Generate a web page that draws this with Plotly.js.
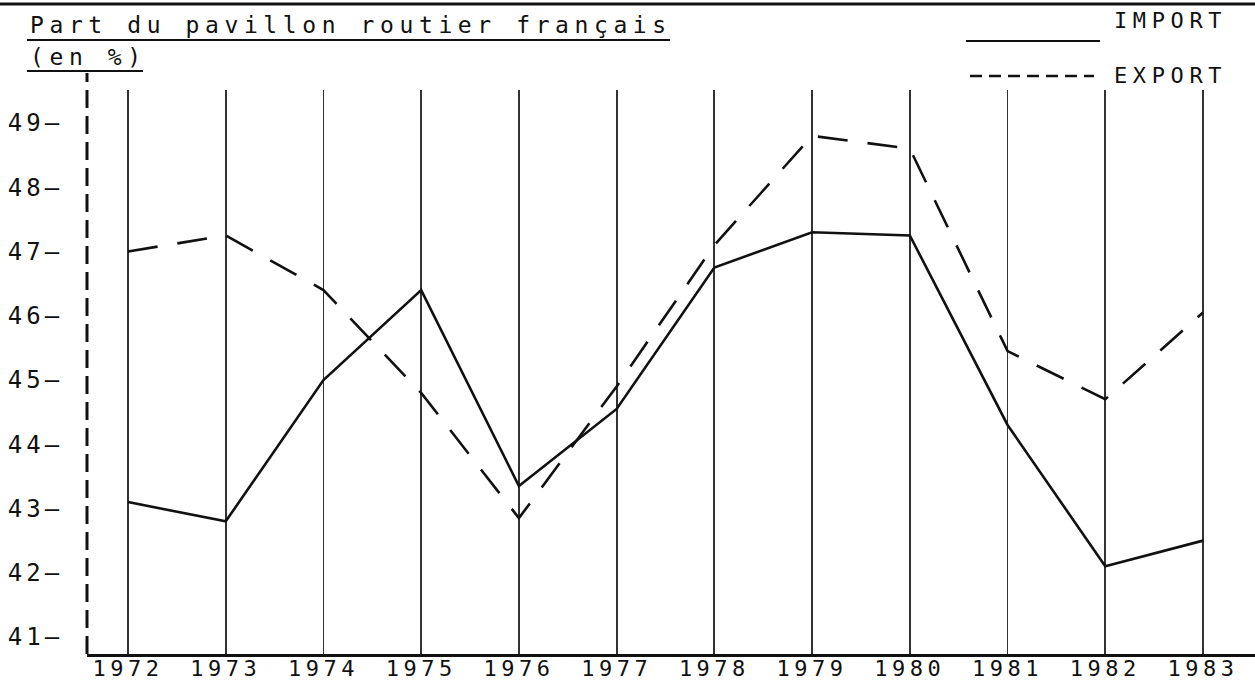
<!DOCTYPE html>
<html>
<head>
<meta charset="utf-8">
<script src="https://cdn.plot.ly/plotly-3.0.1.min.js"></script>
<style>
  html, body { margin: 0; padding: 0; background: #fff; }
  #chart { width: 1255px; height: 682px; }
  .annotation-text { letter-spacing: 5.6px; }
  .xtick text { letter-spacing: 4.5px; }
  .ytick text { letter-spacing: 4px; }
</style>
</head>
<body>
<div id="chart"></div>
<script>
// ---- Data ----
const years = [1972, 1973, 1974, 1975, 1976, 1977, 1978, 1979, 1980, 1981, 1982, 1983];
const importShare = [43.1, 42.8, 45.0, 46.4, 43.35, 44.55, 46.75, 47.3, 47.25, 44.3, 42.1, 42.5];
const exportShare = [47.0, 47.25, 46.4, 44.8, 42.85, 44.9, 47.1, 48.8, 48.6, 45.45, 44.7, 46.05];
const yTicks = [41, 42, 43, 44, 45, 46, 47, 48, 49];
const yTickText = ['41–', '42–', '43–', '44–', '45–', '46–', '47–', '48–', '49–'];
const xTickText = ['1972', '1973', '1974', '1975', '1976', '1977', '1978', '1979', '1980', '1981', '1982', '1983'];
const titleLine1 = 'Part du pavillon routier français';
const titleLine2 = '(en %)';
const importLabel = 'IMPORT';
const exportLabel = 'EXPORT';

// ---- Layout geometry (pixels) ----
const W = 1255, H = 682;
const M = { l: 87, r: 0, t: 90, b: 28 };
const PW = W - M.l - M.r, PH = H - M.t - M.b;
const px = x => (x - M.l) / PW;          // pixel -> paper x
const py = y => (H - M.b - y) / PH;      // pixel -> paper y

const FONT = 'DejaVu Sans Mono, Liberation Mono, monospace';
const INK = '#111';

const traces = [
  {
    x: years, y: importShare, name: importLabel, type: 'scatter', mode: 'lines',
    line: { color: INK, width: 2.6, dash: 'solid' }, showlegend: false
  },
  {
    x: years, y: exportShare, name: exportLabel, type: 'scatter', mode: 'lines',
    line: { color: INK, width: 2.6, dash: '30px,20px' }, showlegend: false
  }
];

const shapes = [
  // top border rule
  { type: 'line', xref: 'paper', yref: 'paper', x0: px(0), x1: px(W), y0: py(4), y1: py(4), line: { color: INK, width: 3 } },
  // underline of title line 1
  { type: 'line', xref: 'paper', yref: 'paper', x0: px(27), x1: px(670), y0: py(40), y1: py(40), line: { color: INK, width: 2 } },
  // underline of title line 2
  { type: 'line', xref: 'paper', yref: 'paper', x0: px(27), x1: px(143), y0: py(71), y1: py(71), line: { color: INK, width: 2 } },
  // dashed left axis
  { type: 'line', xref: 'paper', yref: 'paper', x0: 0, x1: 0, y0: 0, y1: py(73), line: { color: INK, width: 3, dash: '18px,8px' } },
  // legend samples
  { type: 'line', xref: 'paper', yref: 'paper', x0: px(966), x1: px(1100), y0: py(41), y1: py(41), line: { color: INK, width: 2.2 } },
  { type: 'line', xref: 'paper', yref: 'paper', x0: px(970), x1: px(1094), y0: py(76), y1: py(76), line: { color: INK, width: 2.6, dash: '12px,7px' } }
];

const annotations = [
  { text: titleLine1, xref: 'paper', yref: 'paper', x: px(28), y: py(25), xanchor: 'left', yanchor: 'middle', showarrow: false,
    font: { family: FONT, size: 23, color: INK } },
  { text: titleLine2, xref: 'paper', yref: 'paper', x: px(28), y: py(57), xanchor: 'left', yanchor: 'middle', showarrow: false,
    font: { family: FONT, size: 23, color: INK } },
  { text: importLabel, xref: 'paper', yref: 'paper', x: px(1112), y: py(20), xanchor: 'left', yanchor: 'middle', showarrow: false,
    font: { family: FONT, size: 22, color: INK } },
  { text: exportLabel, xref: 'paper', yref: 'paper', x: px(1112), y: py(76), xanchor: 'left', yanchor: 'middle', showarrow: false,
    font: { family: FONT, size: 22, color: INK } }
];

const layout = {
  width: W, height: H,
  margin: M,
  paper_bgcolor: '#fff', plot_bgcolor: '#fff',
  font: { family: FONT, color: INK },
  showlegend: false,
  xaxis: {
    range: [1972 - 41 / 97.73, 1983 + 52 / 97.73],
    tickmode: 'array', tickvals: years, ticktext: xTickText,
    showgrid: true, gridcolor: '#333', gridwidth: 1.8,
    showline: true, linecolor: INK, linewidth: 3,
    ticks: '', ticklabelstandoff: -7,
    tickfont: { family: FONT, size: 22, color: INK },
    zeroline: false, fixedrange: true
  },
  yaxis: {
    range: [41 - 17 / 64.25, 49 + 33 / 64.25],
    tickmode: 'array', tickvals: yTicks, ticktext: yTickText,
    showgrid: false, showline: false, zeroline: false,
    ticks: 'outside', ticklen: 18, tickcolor: 'rgba(0,0,0,0)',
    tickfont: { family: FONT, size: 24, color: INK },
    fixedrange: true
  },
  shapes: shapes,
  annotations: annotations
};

Plotly.newPlot('chart', traces, layout, { displayModeBar: false, staticPlot: true });
</script>
</body>
</html>
